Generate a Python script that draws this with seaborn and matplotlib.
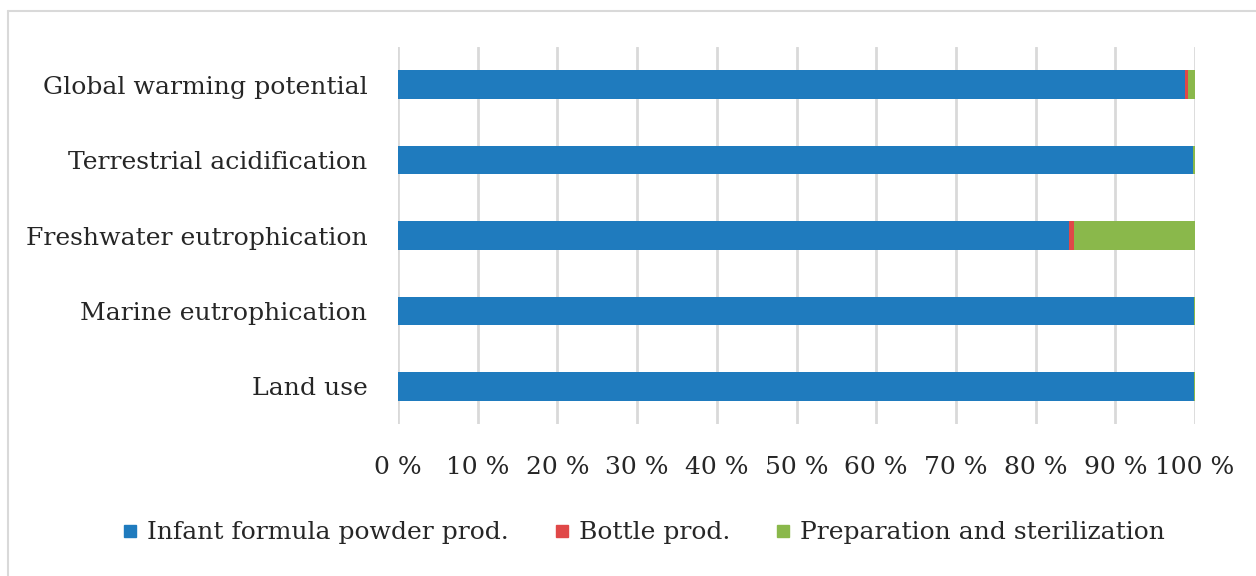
import matplotlib
matplotlib.use("Agg")
import matplotlib.pyplot as plt
from matplotlib.lines import Line2D
import seaborn as sns
import pandas as pd
import numpy as np

categories = ["Global warming potential", "Terrestrial acidification",
              "Freshwater eutrophication", "Marine eutrophication", "Land use"]
infant_formula = [98.8, 99.7, 84.2, 99.9, 99.9]
bottle_prod = [0.3, 0.05, 0.6, 0.02, 0.02]
preparation = [0.9, 0.25, 15.2, 0.08, 0.08]
series_names = ["Infant formula powder prod.", "Bottle prod.", "Preparation and sterilization"]
tick_values = list(range(0, 101, 10))
tick_labels = [f"{v} %" for v in tick_values]

colors = ["#1F7BBE", "#E04848", "#8AB84B"]

sns.set_theme(style="white")
plt.rcParams["font.family"] = ["DejaVu Serif"]

df = pd.DataFrame({"category": categories,
                   "s1": infant_formula, "s2": bottle_prod, "s3": preparation})
df["c1"] = df["s1"]
df["c2"] = df["s1"] + df["s2"]
df["c3"] = df["s1"] + df["s2"] + df["s3"]

fig = plt.figure(figsize=(12.56, 5.76), dpi=100)
ax = fig.add_axes([398/1256, 1-424/576, (1195-398)/1256, (424-47)/576])

for col, c in zip(["c3", "c2", "c1"], colors[::-1]):
    sns.barplot(data=df, x=col, y="category", order=categories, color=c,
                width=0.38, saturation=1, ax=ax, edgecolor="none", linewidth=0)

ax.set_xlim(0, 100)
ax.set_ylim(4.5, -0.5)
ax.set_xticks(tick_values)
ax.set_xticklabels(tick_labels)
ax.set_xlabel("")
ax.set_ylabel("")
for s in ax.spines.values():
    s.set_visible(False)
ax.xaxis.grid(True, color="#D9D9D9", linewidth=2)
ax.yaxis.grid(False)
ax.set_axisbelow(True)
ax.tick_params(axis="x", length=0, pad=23, labelsize=18, labelcolor="#262626")
ax.tick_params(axis="y", length=0, pad=22, labelsize=18.1, labelcolor="#262626")

handles = [Line2D([0], [0], marker="s", linestyle="none", markersize=9,
                  markerfacecolor=c, markeredgecolor=c) for c in colors]
fig.legend(handles, series_names, loc="center", bbox_to_anchor=(640/1256, 1-533/576),
           ncol=3, frameon=False, fontsize=18, handletextpad=0.1, handlelength=1.2,
           columnspacing=1.5, labelcolor="#262626")

# outer chart border
fig.add_artist(Line2D([8/1256, 1.0], [1-11/576, 1-11/576], transform=fig.transFigure,
                      color="#D9D9D9", linewidth=1.5))
fig.add_artist(Line2D([8/1256, 8/1256], [1-11/576, 0.0], transform=fig.transFigure,
                      color="#D9D9D9", linewidth=1.5))

fig.savefig("out.png", dpi=100)
